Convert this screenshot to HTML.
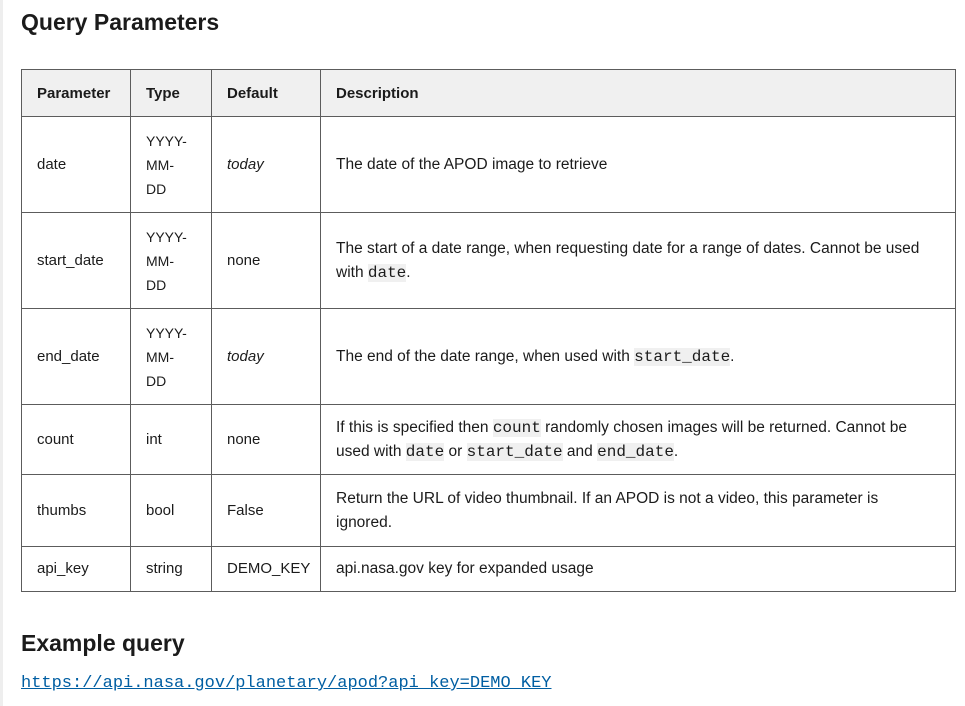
<!DOCTYPE html>
<html><head><meta charset="utf-8"><style>
body{margin:0;width:965px;height:706px;background:#fff;font-family:"Liberation Sans",sans-serif;color:#1b1b1b;position:relative;overflow:hidden}
.edge{position:absolute;left:0;top:0;width:3px;height:706px;background:#eee}
h2{position:absolute;margin:0;font-size:23px;font-weight:bold;left:21px;color:#1b1b1b}
table{position:absolute;left:21px;top:69px;border-collapse:collapse;table-layout:fixed;font-size:15px}
td,th{border:1px solid #5c5c5c;padding:0 0 0 15px;text-align:left;vertical-align:middle;white-space:nowrap;line-height:24px}
th{background:#f0f0f0;font-size:15px;padding-top:2px}
td.d{font-size:15.5px}
code{font-family:"Liberation Mono",monospace;background:#f0f0f0;font-size:16px}
a{position:absolute;left:21px;top:674px;font-family:"Liberation Mono",monospace;font-size:17px;color:#005ea2;text-decoration:underline}
</style></head><body>
<div class="edge"></div>
<h2 style="top:9px">Query Parameters</h2>
<table>
<colgroup><col style="width:109px"><col style="width:81px"><col style="width:109px"><col style="width:635px"></colgroup>
<tr style="height:47px"><th>Parameter</th><th>Type</th><th>Default</th><th>Description</th></tr>
<tr style="height:96px"><td>date</td><td style="font-size:14px">YYYY-<br>MM-<br>DD</td><td><i>today</i></td><td class="d">The date of the APOD image to retrieve</td></tr>
<tr style="height:96px"><td>start_date</td><td style="font-size:14px">YYYY-<br>MM-<br>DD</td><td>none</td><td class="d">The start of a date range, when requesting date for a range of dates. Cannot be used<br>with <code>date</code>.</td></tr>
<tr style="height:96px"><td>end_date</td><td style="font-size:14px">YYYY-<br>MM-<br>DD</td><td><i>today</i></td><td class="d">The end of the date range, when used with <code>start_date</code>.</td></tr>
<tr style="height:70px"><td>count</td><td>int</td><td>none</td><td class="d">If this is specified then <code>count</code> randomly chosen images will be returned. Cannot be<br>used with <code>date</code> or <code>start_date</code> and <code>end_date</code>.</td></tr>
<tr style="height:72px"><td>thumbs</td><td>bool</td><td>False</td><td class="d">Return the URL of video thumbnail. If an APOD is not a video, this parameter is<br>ignored.</td></tr>
<tr style="height:45px"><td>api_key</td><td>string</td><td>DEMO_KEY</td><td class="d">api.nasa.gov key for expanded usage</td></tr>
</table>
<h2 style="top:630px">Example query</h2>
<a>https://api.nasa.gov/planetary/apod?api_key=DEMO_KEY</a>
</body></html>
